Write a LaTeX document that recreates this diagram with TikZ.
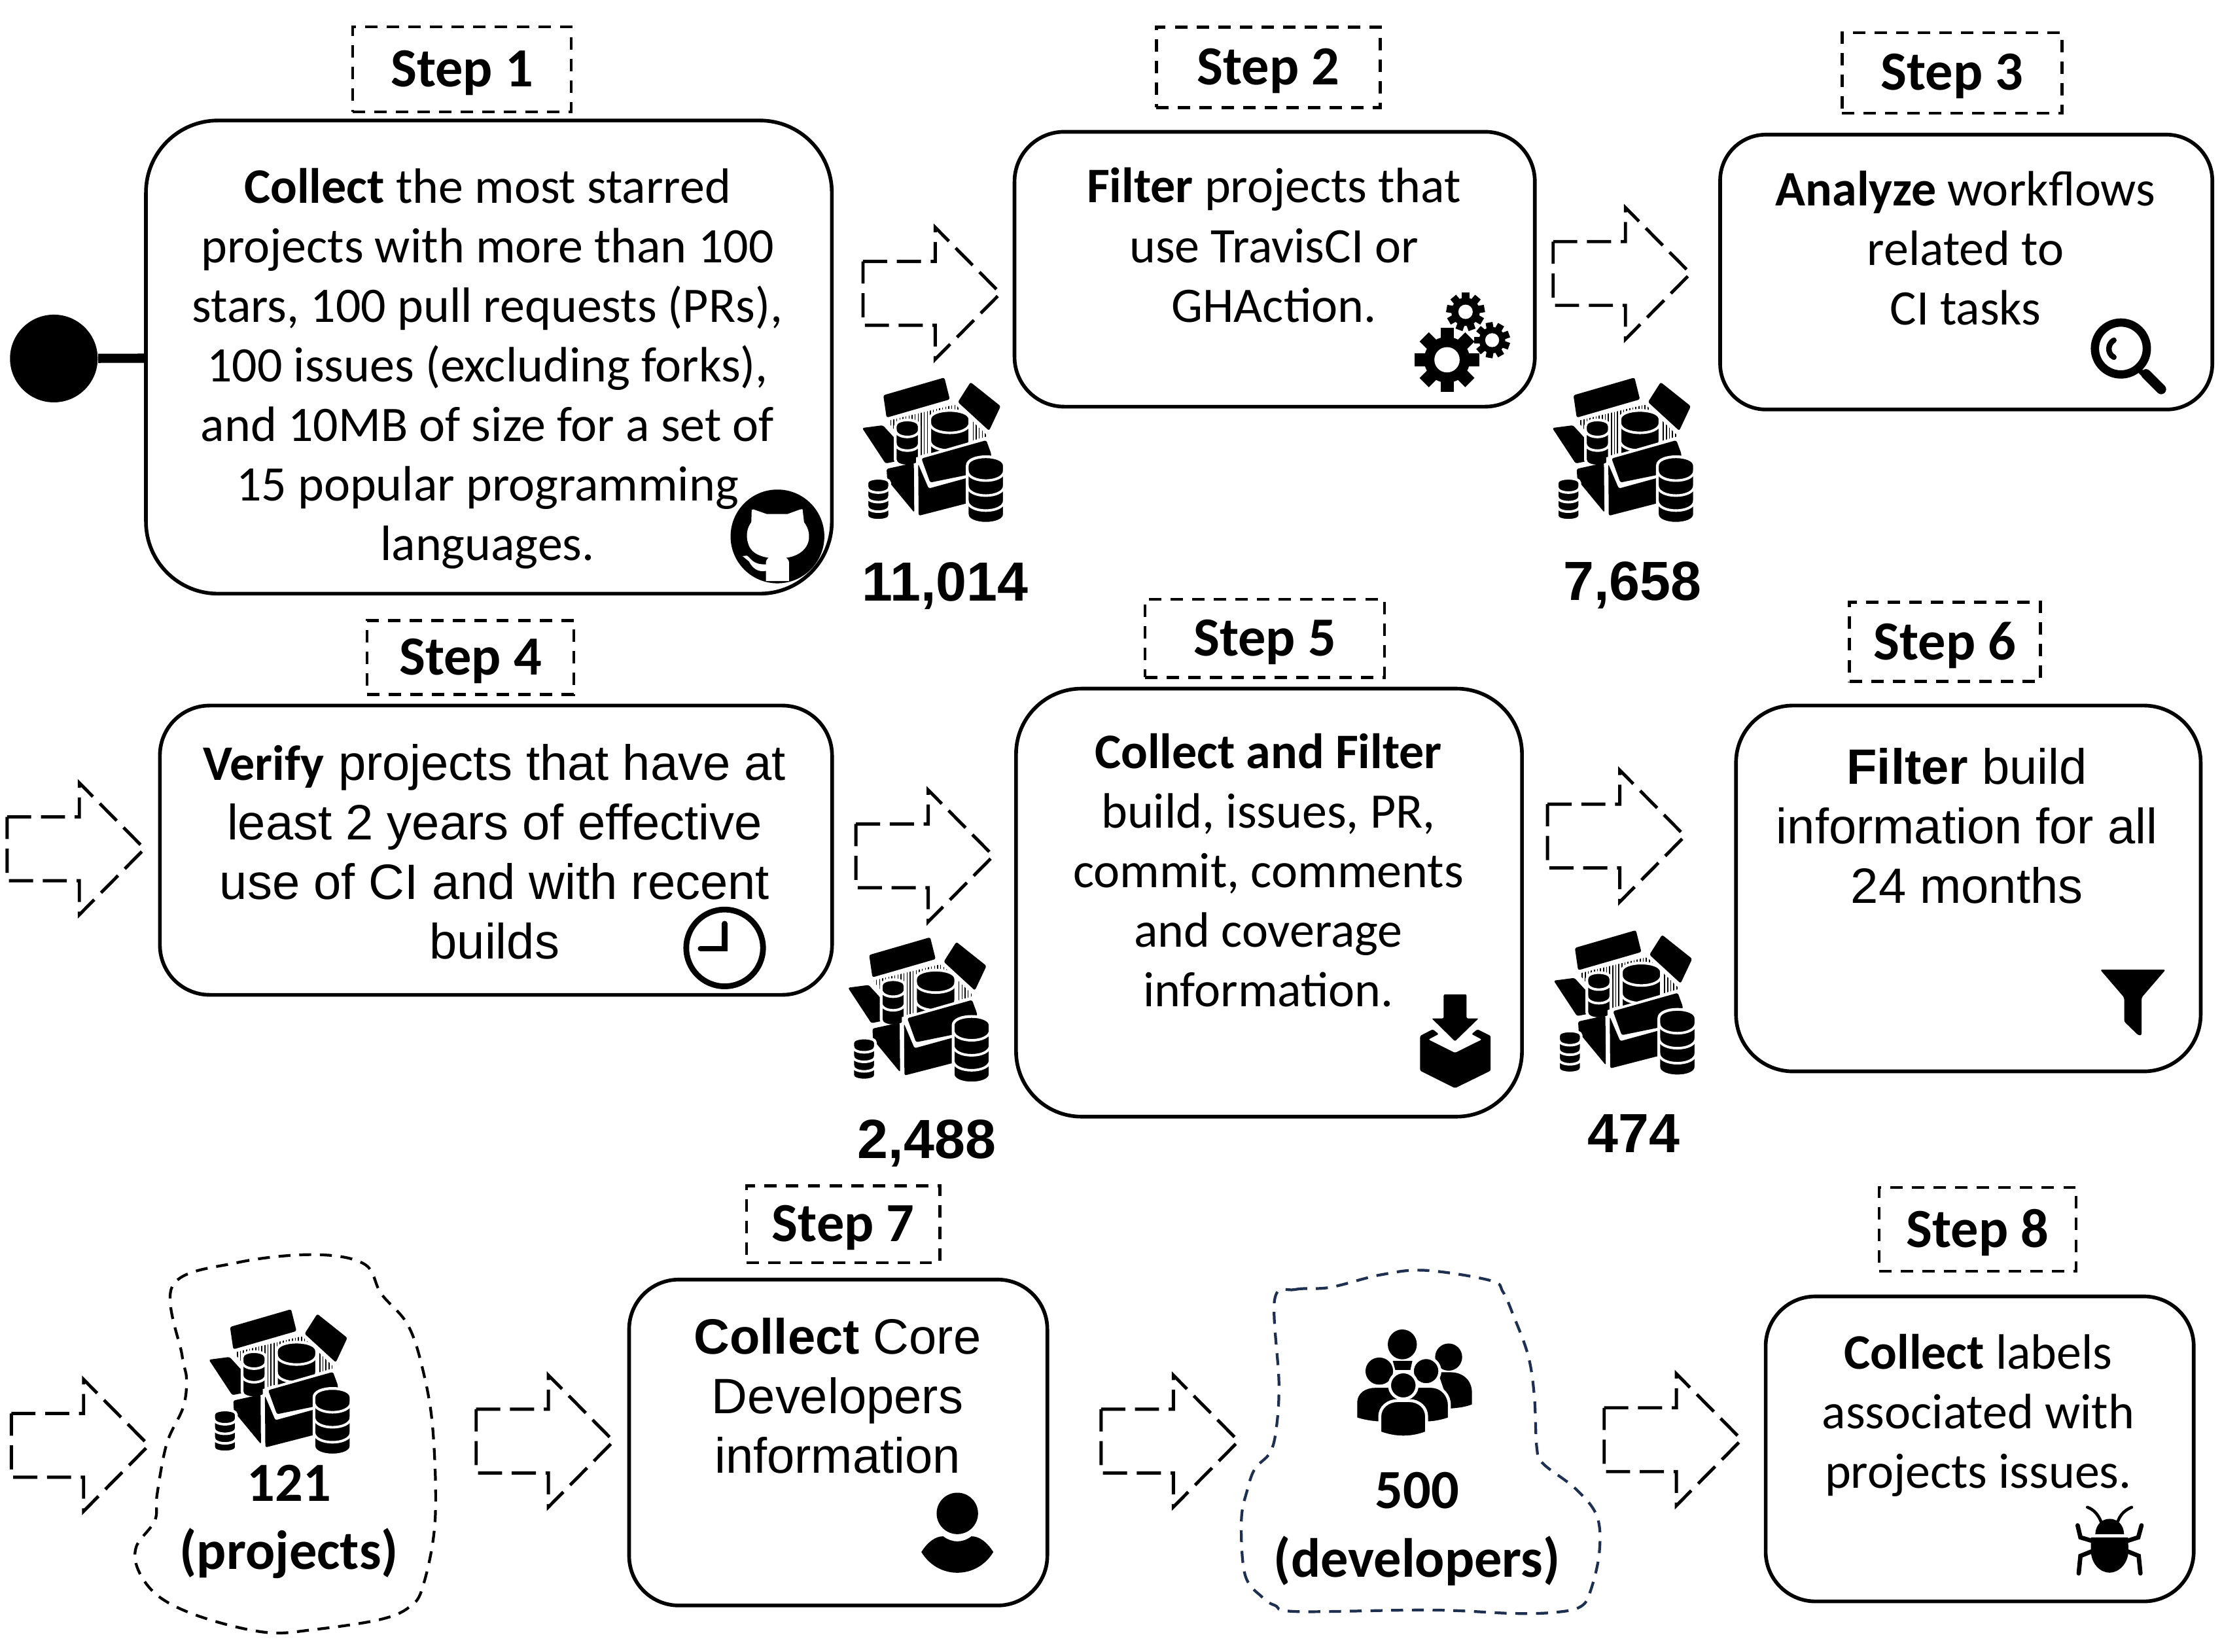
\documentclass[tikz,border=0pt]{standalone}
\usepackage{fontspec}
\usepackage{tikz}
\setmainfont{Carlito}
\newfontfamily\arialfont{Liberation Sans}
\newcommand{\keyword}[1]{{\rmfamily\bfseries #1}}
\newcommand{\dbcyl}[6]{%
  \draw[white,line width=1.2pt,fill=black] ({#1-#3},#2) .. controls ({#1-#3},{#2-1.33*#4}) and ({#1+#3},{#2-1.33*#4}) .. ({#1+#3},#2)
    -- ({#1+#3},#5) .. controls ({#1+#3},{#5+1.33*#4}) and ({#1-#3},{#5+1.33*#4}) .. ({#1-#3},#5) -- cycle;
  \foreach \band in {#6}
    \draw[white,line width=1.1pt] ({#1-#3},\band) .. controls ({#1-#3},{\band+1.33*#4}) and ({#1+#3},{\band+1.33*#4}) .. ({#1+#3},\band);
}
\tikzset{
  stepbox/.style={draw,line width=1.6pt},
  steplabel/.style={draw,line width=1.3pt,dash pattern=on 5.4pt off 4pt,text depth=0.7pt,font=\fontsize{24}{29}\selectfont\bfseries},
  bodytext/.style={align=center,font=\fontsize{21.6}{25.9}\selectfont},
  arialtext/.style={align=center,font=\arialfont\fontsize{21.6}{25.9}\selectfont},
  counttext/.style={font=\arialfont\fontsize{24}{29}\selectfont\bfseries},
  totaltext/.style={align=center,font=\fontsize{24}{29.6}\selectfont\bfseries},
  blobline/.style={line width=1.2pt,dash pattern=on 5.2pt off 3.8pt},
  pics/dasharrow/.style={code={
    \draw[line width=1.4pt,dash pattern=on 10.5pt off 4.2pt] (0,-22.5) -- (51,-22.5) -- (51,-46.5) -- (97,0) -- (51,46.5) -- (51,22.5) -- (0,22.5) -- cycle;
  }},
  pics/boxicon/.style={code={
    \begin{scope}[xscale=.1539,yscale=.1924,rounded corners=0.8pt]
      \fill (210,730) -- (490,665) -- (515,745) -- (225,812) -- cycle;
      \fill (610,682) -- (748,770) -- (695,860) -- (552,755) -- cycle;
      \fill (113,850) -- (208,840) -- (345,960) -- (220,980) -- cycle;
      \begin{scope}
        \clip (228,824) -- (540,764) -- (690,880) -- (360,955) -- cycle;
        \foreach \hx in {230,244,...,690}
          \draw[line width=0.45pt] (\hx,750) -- (\hx,960);
      \end{scope}
      \dbcyl{320}{850}{55}{28}{960}{855,905}
      \dbcyl{515}{825}{92}{38}{960}{830,895}
      \fill[white,rounded corners=0pt] (360,958) -- (690,882) -- (710,1000) -- (360,1000) -- cycle;
      \fill (385,962) -- (682,895) -- (705,945) -- (700,1005) -- (425,1050) -- cycle;
      \fill (225,1000) -- (350,978) -- (352,1160) -- (228,1040) -- cycle;
      \fill (370,982) -- (418,1072) -- (600,1032) -- (600,1125) -- (372,1172) -- cycle;
      \dbcyl{187}{1058}{52}{22}{1165}{1065,1100,1135}
      \dbcyl{680}{995}{85}{38}{1160}{1005,1060,1115}
    \end{scope}
  }},
  pics/githubicon/.style={code={
    \begin{scope}[scale=.1539]
      \fill (325,300) circle (215);
      \fill[white] (205,235) -- (207,178) -- (215,176) -- (275,197) -- (372,197) -- (430,176) -- (440,175) -- (447,235)
        .. controls (470,265) and (475,300) .. (465,330) .. controls (450,370) and (410,392) .. (365,398)
        .. controls (378,410) .. (378,430) -- (378,505) -- (272,505) -- (272,458)
        .. controls (235,465) and (210,445) .. (195,415) -- (165,390) -- (185,388)
        .. controls (205,400) and (210,430) .. (272,428) -- (272,420)
        .. controls (272,410) and (280,400) .. (285,398) .. controls (235,390) and (200,370) .. (190,330)
        .. controls (180,295) and (185,262) .. (205,235) -- cycle;
    \end{scope}
  }},
  pics/gearsicon/.style={code={
    \begin{scope}[scale=.1539]
      \foreach \cx/\cy/\ro/\rr/\rh/\tw/\st/\ph in {245/360/148/105/58/30/45/0,330/140/88/65/33/17/40/10,452/270/82/60/32/16/40/20}{
        \foreach \ang in {0,\st,...,359}
          \fill[shift={(\cx,\cy)},rotate=\ang+\ph] (0,-\tw) rectangle (\ro,\tw);
        \fill (\cx,\cy) circle (\rr);
        \fill[white] (\cx,\cy) circle (\rh);
      }
    \end{scope}
  }},
  pics/lensicon/.style={code={
    \begin{scope}[scale=.1539]
      \draw[line width=3.6pt] (275,218) circle (119);
      \draw[line width=2.2pt] (360,318) -- (385,342);
      \draw[line width=4.3pt,line cap=round] (390,335) -- (460,405);
      \draw[line width=2.4pt,line cap=round] (243,180) .. controls (215,195) and (210,240) .. (243,258);
    \end{scope}
  }},
  pics/clockicon/.style={code={
    \begin{scope}[scale=.1539]
      \draw[line width=2.5pt] (233,237) circle (176);
      \draw[line width=2.3pt,line cap=round] (233,125) -- (233,240) -- (122,240);
    \end{scope}
  }},
  pics/downloadicon/.style={code={
    \begin{scope}[scale=.1539,rounded corners=0.6pt]
      \fill (170,90) -- (275,90) -- (275,200) -- (330,200) -- (222,305) -- (115,200) -- (170,200) -- cycle;
      \fill (120,250) -- (62,280) -- (62,440) -- (222,520) -- (385,440) -- (385,280) -- (325,250) -- (298,272) -- (345,297) -- (222,358) -- (100,297) -- (147,272) -- cycle;
    \end{scope}
  }},
  pics/funnelicon/.style={code={
    \begin{scope}[scale=.1539,rounded corners=0.8pt]
      \fill (60,67) -- (360,67) -- (250,195) -- (250,368) -- (235,368) -- (170,305) -- (170,195) -- cycle;
    \end{scope}
  }},
  pics/personicon/.style={code={
    \begin{scope}[scale=.1539]
      \fill (220,160) circle (95);
      \fill (55,337) .. controls (85,290) and (120,265) .. (155,265) .. controls (175,280) and (195,288) .. (220,288)
        .. controls (245,288) and (265,280) .. (285,265) .. controls (320,265) and (355,290) .. (385,337)
        .. controls (350,395) and (290,432) .. (220,432) .. controls (150,432) and (90,395) .. (55,337) -- cycle;
    \end{scope}
  }},
  pics/teamicon/.style={code={
    \begin{scope}[xscale=.1767,yscale=.1598]
      \fill (688,332) ellipse (58 and 66);
      \fill (650,405) -- (728,405) -- (720,445) -- (660,445) -- cycle;
      \fill (873,388) ellipse (54 and 60);
      \fill (830,455) -- (880,455) .. controls (930,455) and (966,490) .. (966,545) -- (966,597) .. controls (940,608) and (915,612) .. (880,615) -- cycle;
      \fill (596,450) ellipse (55 and 60);
      \draw[white,line width=1.3pt,fill=black] (502,660) -- (502,590) .. controls (502,540) and (540,517) .. (580,517) -- (800,517)
        .. controls (850,517) and (876,560) .. (876,600) -- (876,660) .. controls (850,670) and (825,676) .. (800,678) -- (585,678)
        .. controls (555,675) and (530,670) .. (502,660) -- cycle;
      \draw[white,line width=1.3pt,fill=black] (783,450) ellipse (55 and 60);
      \draw[white,line width=1.3pt,fill=black] (692,513) ellipse (55 and 60);
      \draw[white,line width=1.3pt,fill=black] (598,722) -- (598,650) .. controls (598,610) and (630,580) .. (670,580) -- (715,580)
        .. controls (755,580) and (785,610) .. (785,650) -- (785,722) .. controls (725,748) and (660,748) .. (598,722) -- cycle;
    \end{scope}
  }},
  pics/bugicon/.style={code={
    \begin{scope}[scale=.1539]
      \fill (248,225) .. controls (250,180) and (280,155) .. (314,155) .. controls (348,155) and (378,180) .. (380,225) -- cycle;
      \fill (228,240) -- (398,240) -- (400,300) .. controls (400,360) and (355,402) .. (314,402) .. controls (270,402) and (228,360) .. (228,300) -- cycle;
      \draw[line width=1.3pt,line cap=round] (275,170) .. controls (262,135) and (240,112) .. (212,102);
      \draw[line width=1.3pt,line cap=round] (352,165) .. controls (365,130) and (390,112) .. (415,102);
      \draw[line width=1.9pt,line cap=round] (230,255) -- (180,240) -- (167,185);
      \draw[line width=1.9pt,line cap=round] (398,255) -- (445,240) -- (460,185);
      \draw[line width=1.9pt,line cap=round] (230,305) -- (180,325) -- (172,405);
      \draw[line width=1.9pt,line cap=round] (398,305) -- (447,325) -- (455,405);
    \end{scope}
  }},
}
\begin{document}
\begin{tikzpicture}[x=0.021658cm,y=-0.021658cm]
    \useasboundingbox (0,0) rectangle (1568,1165.4);
    % first row
    \node[stepbox,rounded corners=1.1cm,minimum width=10.48cm,minimum height=7.23cm] (box1) at (345,252) {};
    \node[stepbox,rounded corners=0.76cm,minimum width=7.95cm,minimum height=4.2cm] (box2) at (899.5,190) {};
    \node[stepbox,rounded corners=0.7cm,minimum width=7.52cm,minimum height=4.2cm] (box3) at (1387.5,192) {};
    \node[circle,fill=black,inner sep=0pt,minimum size=1.34cm] (startdot) at (38,253) {};
    \draw[line width=4pt] (startdot) -- (box1);
    \node[steplabel,minimum width=3.34cm,minimum height=1.3cm] (step1) at (326,49) {Step 1};
    \node[steplabel,minimum width=3.42cm,minimum height=1.23cm] (step2) at (895,47.5) {Step 2};
    \node[steplabel,minimum width=3.36cm,minimum height=1.23cm] (step3) at (1377.5,51.5) {Step 3};
    \node[bodytext] (text1) at (344,260) {\textbf{Collect} the most starred\\projects with more than 100\\stars, 100 pull requests (PRs),\\100 issues (excluding forks),\\and 10MB of size for a set of\\15 popular programming\\languages.};
    \node[bodytext] (text2) at (899,173) {\textbf{Filter} projects that\\use TravisCI or\\GHAction.};
    \node[bodytext] (text3) at (1387,175) {\textbf{Analyze} workflows\\related to\\CI tasks};
    \pic at (498.6,332.4) {githubicon};
    \pic at (983.4,198.5) {gearsicon};
    \pic at (1454.3,212.4) {lensicon};
    \pic at (609,207) {dasharrow};
    \pic at (1096,193) {dasharrow};
    \pic at (591,138.5) {boxicon};
    \pic at (1078,138.5) {boxicon};
    \node[counttext] (count1) at (667,413.5) {11,014};
    \node[counttext] (count2) at (1152,413) {7,658};
    % second row
    \node[stepbox,rounded corners=0.76cm,minimum width=10.27cm,minimum height=4.42cm] (box4) at (350,600) {};
    \node[stepbox,rounded corners=1cm,minimum width=7.73cm,minimum height=6.54cm] (box5) at (895.5,637) {};
    \node[stepbox,rounded corners=0.87cm,minimum width=7.1cm,minimum height=5.59cm] (box6) at (1389,627) {};
    \node[steplabel,minimum width=3.16cm,minimum height=1.13cm] (step4) at (332,464) {Step 4};
    \node[steplabel,minimum width=3.66cm,minimum height=1.19cm] (step5) at (892.5,450.5) {Step 5};
    \node[steplabel,minimum width=2.92cm,minimum height=1.21cm] (step6) at (1372.5,453) {Step 6};
    \node[arialtext] (text4) at (349,601) {\keyword{Verify} projects that have at\\least 2 years of effective\\use of CI and with recent\\builds};
    \node[bodytext] (text5) at (895,614) {\textbf{Collect and Filter}\\build, issues, PR,\\commit, comments\\and coverage\\information.};
    \node[arialtext] (text6) at (1388,583) {\textbf{Filter} build\\information for all\\24 months};
    \pic at (475.5,632.5) {clockicon};
    \pic at (992.6,687.9) {downloadicon};
    \pic at (1472.8,674) {funnelicon};
    \pic at (5,599) {dasharrow};
    \pic at (604,604) {dasharrow};
    \pic at (1092,590) {dasharrow};
    \pic at (581,533.5) {boxicon};
    \pic at (1079,528.5) {boxicon};
    \node[counttext] (count3) at (654,807) {2,488};
    \node[counttext] (count4) at (1153,800) {474};
    % third row
    \node[stepbox,rounded corners=0.76cm,minimum width=6.39cm,minimum height=4.98cm] (box7) at (591.5,1018) {};
    \node[stepbox,rounded corners=0.76cm,minimum width=6.54cm,minimum height=4.66cm] (box8) at (1397,1022.5) {};
    \node[steplabel,minimum width=2.95cm,minimum height=1.17cm] (step7) at (595,864) {Step 7};
    \node[steplabel,minimum width=3.01cm,minimum height=1.28cm] (step8) at (1395.5,867.5) {Step 8};
    \node[arialtext] (text7) at (591,985) {\textbf{Collect} Core\\Developers\\information};
    \node[bodytext] (text8) at (1396,999) {\textbf{Collect} labels\\associated with\\projects issues.};
    \pic at (641.7,1043.4) {personicon};
    \pic at (1440.4,1048) {bugicon};
    \pic at (8,1020) {dasharrow};
    \pic at (336,1017) {dasharrow};
    \pic at (777,1017) {dasharrow};
    \pic at (1132,1016) {dasharrow};
    \draw[blobline] plot[smooth cycle,tension=0.6] coordinates {(122,907) (167.7,891) (221.6,885.4) (257,892) (269,913) (287.8,935) (298.6,967.6) (305.5,1009.6) (307,1073.5) (298.6,1119) (289,1134) (267.8,1143) (221.6,1150) (187.8,1152) (144.7,1142) (113.9,1128) (98.5,1110) (96,1092) (109.3,1073) (110.8,1055) (117.7,1018.7) (129.3,993) (131.6,973) (128.5,956.6)};
    \draw[blobline,color={rgb,255:red,31;green,47;blue,80}] plot[smooth cycle,tension=0.6] coordinates {(899.5,917) (914,910) (938.7,908.5) (974,899.7) (1005.8,896.5) (1051.8,903.7) (1060.6,911.7) (1067.7,927.7) (1078.3,956.4) (1082.7,985) (1084.5,1022) (1089,1033) (1111.9,1050.7) (1126.9,1070) (1128.6,1095.5) (1122.4,1122.6) (1115.4,1133.8) (1097.7,1137.8) (1067.7,1138.6) (1009.4,1136.2) (915.7,1137.3) (899.8,1133) (891,1127.4) (878.6,1111.4) (876,1073) (880.4,1050.7) (885.7,1036.3) (896.3,1025) (900.7,1007.6) (902.5,975.6)};
    \pic at (130,796) {boxicon};
    \pic at (868,895.7) {teamicon};
    \node[totaltext] (total1) at (204,1074) {121\\(projects)};
    \node[totaltext] (total2) at (1000,1079) {500\\(developers)};
\end{tikzpicture}
\end{document}
